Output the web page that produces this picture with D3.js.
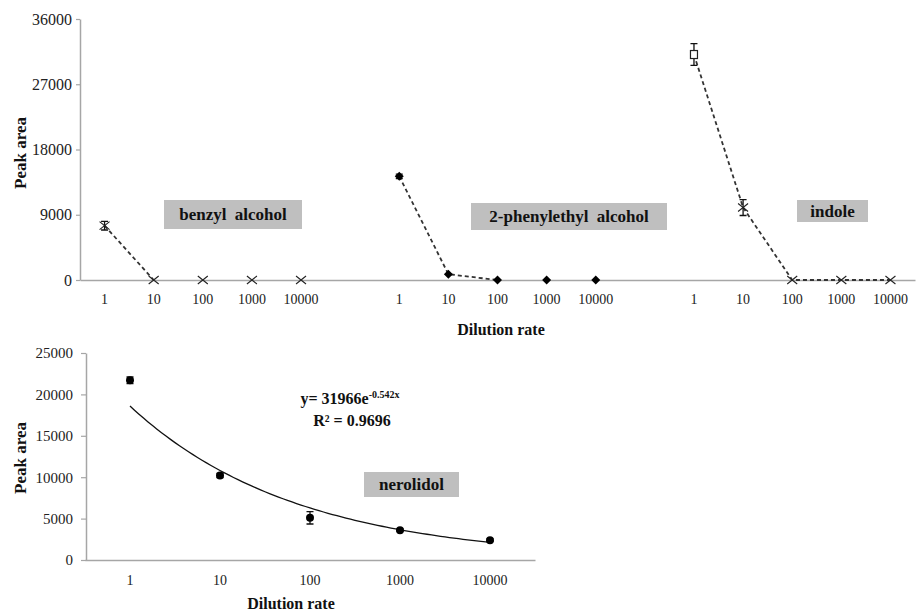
<!DOCTYPE html>
<html lang="en">
<head>
<meta charset="UTF-8">
<title>Peak area vs dilution rate</title>
<style>
  body{margin:0;background:#fff}
</style>
</head>
<body>
<script src="https://cdn.jsdelivr.net/npm/d3@7"></script>
<script>
// dilution categories
var dilutions=['1','10','100','1000','10000']
var topTicks=[0,9000,18000,27000,36000]
var botTicks=[0,5000,10000,15000,20000,25000]

// top chart series (peak area) and error bars
var benzyl=[7500,0,0,0,0]
var benzylErr=[600,0,0,0,0]
var phenyl=[14300,800,0,0,0]
var phenylErr=[300,0,0,0,0]
var indole=[31100,10000,0,0,0]
var indoleErr=[1500,1100,0,0,0]

// bottom chart
var nerolidol=[21700,10200,5100,3600,2400]
var nerolidolErr=[400,250,750,150,150]
var trendA=31966,trendB=-0.542,trendR2=0.9696

var width=920,height=611
var axisColor='#a6a6a6',lineColor='#333'
var serif='"Liberation Serif", "Times New Roman", serif'

var svg=d3.select('body').append('svg').attr('width',width).attr('height',height)
  .style('font-family',serif)

// ---------- top chart ----------
var groups=[
  {name:'benzyl alcohol',values:benzyl,err:benzylErr,marker:['cross','cross','cross','cross','cross'],joined:2},
  {name:'2-phenylethyl alcohol',values:phenyl,err:phenylErr,marker:['diamond','diamond','diamond','diamond','diamond'],joined:3},
  {name:'indole',values:indole,err:indoleErr,marker:['square','cross','cross','cross','cross'],joined:5}
]
var keys=[]
groups.forEach(function(g,gi){
  if(gi>0) keys.push('gap'+gi)
  dilutions.forEach(function(d){keys.push(gi+'-'+d)})
})
var x=d3.scaleBand().domain(keys).range([80,915])
var y=d3.scaleLinear().domain([0,36000]).range([280,19])

svg.append('g').attr('transform','translate(80,0)')
  .call(d3.axisLeft(y).tickValues(topTicks).tickFormat(d3.format('d')).tickSize(4).tickSizeOuter(0).tickPadding(4))
  .call(styleAxis).selectAll('text').style('font-size','16px')
svg.append('g').attr('transform','translate(0,280)')
  .call(d3.axisBottom(x).tickSize(0).tickSizeOuter(0).tickPadding(14)
    .tickFormat(function(k){return k.indexOf('gap')==0?'':k.split('-')[1]}))
  .call(styleAxis).selectAll('text').style('font-size','14px')

function styleAxis(g){
  g.attr('font-family',null).style('font-family',serif)
  g.select('.domain').attr('stroke',axisColor).attr('stroke-width',1.5)
  g.selectAll('.tick line').attr('stroke',axisColor).attr('stroke-width',1.2)
  g.selectAll('text').attr('fill','#222').style('font-family',serif)
}

var line=d3.line().x(function(d){return d.x}).y(function(d){return d.y})

groups.forEach(function(g,gi){
  var pts=g.values.map(function(v,i){
    return {x:x(gi+'-'+dilutions[i])+x.bandwidth()/2,v:v,y:y(v),e:g.err[i],m:g.marker[i]}
  })
  svg.append('path').attr('d',line(pts.slice(0,g.joined)))
    .attr('fill','none').attr('stroke',lineColor).attr('stroke-width',1.8).attr('stroke-dasharray','4,3')
  drawPoints(pts,y)
})

function drawPoints(pts,ys){
  pts.forEach(function(p){
    if(p.e>0){
      var t=ys(p.v+p.e),b=ys(p.v-p.e)
      svg.append('path').attr('d','M'+p.x+','+t+'V'+b+'M'+(p.x-3.5)+','+t+'H'+(p.x+3.5)+'M'+(p.x-3.5)+','+b+'H'+(p.x+3.5))
        .attr('stroke','#111').attr('stroke-width',1.3).attr('fill','none')
    }
    if(p.m=='cross'){
      svg.append('path').attr('d','M'+(p.x-5)+','+(p.y-4)+'L'+(p.x+5)+','+(p.y+4)+'M'+(p.x-5)+','+(p.y+4)+'L'+(p.x+5)+','+(p.y-4))
        .attr('stroke','#222').attr('stroke-width',1.1).attr('fill','none')
    }else if(p.m=='diamond'){
      svg.append('path').attr('d','M0,-4.5L4.5,0L0,4.5L-4.5,0Z').attr('transform','translate('+p.x+','+p.y+')').attr('fill','#000')
    }else if(p.m=='square'){
      svg.append('rect').attr('x',p.x-3.5).attr('y',p.y-4).attr('width',7).attr('height',8)
        .attr('fill','#fff').attr('stroke','#222').attr('stroke-width',1.2)
    }else if(p.m=='circle'){
      svg.append('circle').attr('cx',p.x).attr('cy',p.y).attr('r',4).attr('fill','#000')
    }
  })
}

function boldText(txt,x0,y0,size){
  return svg.append('text').attr('x',x0).attr('y',y0).attr('dy','0.35em').attr('text-anchor','middle')
    .style('font-family',serif).style('font-size',size+'px').style('font-weight','bold').attr('fill','#111').text(txt)
}
function labelBox(txt,x0,y0,w,h){
  svg.append('rect').attr('x',x0).attr('y',y0).attr('width',w).attr('height',h).attr('fill','#bfbfbf')
  boldText(txt,x0+w/2,y0+h/2,17).style('word-spacing','4px')
}
labelBox('benzyl alcohol',164,200,138,29)
labelBox('2-phenylethyl alcohol',471,203,196,27)
labelBox('indole',797,200,71,22)

boldText('Peak area',0,0,17).attr('transform','translate(20,153) rotate(-90)')
boldText('Dilution rate',501,329,16)

// ---------- bottom chart ----------
var x2=d3.scaleBand().domain(dilutions).range([85,535])
var y2=d3.scaleLinear().domain([0,25000]).range([560,353])

svg.append('g').attr('transform','translate(86,0)')
  .call(d3.axisLeft(y2).tickValues(botTicks).tickFormat(d3.format('d')).tickSize(5).tickSizeOuter(0).tickPadding(8))
  .call(styleAxis).selectAll('text').style('font-size','15px')
svg.append('g').attr('transform','translate(0,560)')
  .call(d3.axisBottom(x2).tickSize(0).tickSizeOuter(0).tickPadding(15))
  .call(styleAxis).selectAll('text').style('font-size','14px')

// exponential trendline, x = category index 1..5
var trend=d3.range(1,5.01,0.05).map(function(i){
  return {x:x2(dilutions[0])+x2.bandwidth()/2+(i-1)*x2.step(),y:y2(trendA*Math.exp(trendB*i))}
})
svg.append('path').attr('d',d3.line().x(function(d){return d.x}).y(function(d){return d.y})(trend))
  .attr('fill','none').attr('stroke','#111').attr('stroke-width',1.3)

drawPoints(nerolidol.map(function(v,i){
  return {x:x2(dilutions[i])+x2.bandwidth()/2,v:v,y:y2(v),e:nerolidolErr[i],m:'circle'}
}),y2)

var eq=boldText('',350,404,16).attr('dy',null)
eq.append('tspan').text('y= '+trendA+'e')
eq.append('tspan').attr('dy','-6').style('font-size','10px').text(trendB+'x')
boldText('R² = '+trendR2,352,420,16)

labelBox('nerolidol',364,472,95,25)

boldText('Peak area',0,0,17).attr('transform','translate(20,458) rotate(-90)')
boldText('Dilution rate',291,603,16)
</script>
</body>
</html>
